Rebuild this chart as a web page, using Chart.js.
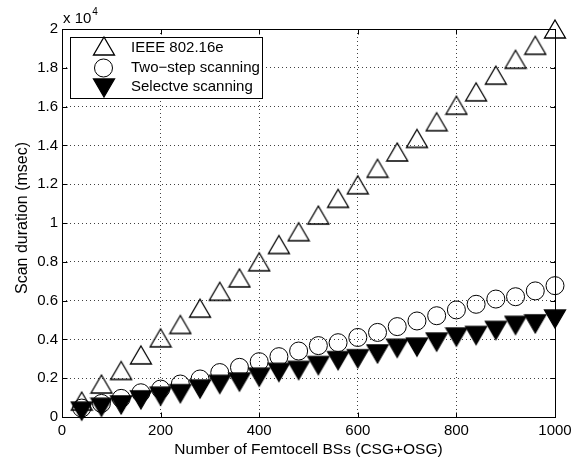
<!DOCTYPE html>
<html>
<head>
<meta charset="utf-8">
<script src="https://cdn.jsdelivr.net/npm/chart.js@4.4.1/dist/chart.umd.min.js"></script>
<style>
html, body { margin: 0; padding: 0; background: #fff; }
</style>
</head>
<body>
<canvas id="grafico" width="580" height="458"></canvas>
<script>
// numero de femtocells (eixo x)
const femtocelulas = [40, 80, 120, 160, 200, 240, 280, 320, 360, 400, 440, 480, 520,
  560, 600, 640, 680, 720, 760, 800, 840, 880, 920, 960, 1000];

// duracao do scan em msec
const ieee80216e = [820, 1700, 2400, 3200, 4080, 4770, 5610, 6480, 7170, 8000, 8890, 9550, 10410,
  11270, 11970, 12820, 13660, 14360, 15220, 16070, 16760, 17620, 18440, 19160, 20000];
const doisPassos = [460, 700, 960, 1250, 1440, 1700, 1960, 2290, 2560, 2850, 3110, 3400, 3680,
  3830, 4100, 4360, 4660, 4950, 5220, 5520, 5810, 6080, 6200, 6500, 6770];
const seletivo = [300, 500, 620, 880, 1070, 1200, 1440, 1680, 1800, 2050, 2300, 2400, 2650,
  2900, 3000, 3250, 3540, 3600, 3860, 4120, 4200, 4460, 4720, 4800, 5050];

const ticksY = [0, 2000, 4000, 6000, 8000, 10000, 12000, 14000, 16000, 18000, 20000];
const legendas = ['IEEE 802.16e', 'Two\u2212step scanning', 'Selectve scanning'];

const fonte = 'Liberation Sans, Arial, Helvetica, sans-serif';

/*  Marcadores estilo matlab  */
function marcaTriangulo(cheio, paraBaixo) {
  const c = document.createElement('canvas');
  c.width = 24; c.height = 22;
  const g = c.getContext('2d');
  const w = 21, h = 18, cx = 12, cy = 11;
  g.beginPath();
  if (!paraBaixo) {
    g.moveTo(cx, cy - h / 2); g.lineTo(cx + w / 2, cy + h / 2); g.lineTo(cx - w / 2, cy + h / 2);
  } else {
    g.moveTo(cx, cy + h / 2); g.lineTo(cx + w / 2, cy - h / 2); g.lineTo(cx - w / 2, cy - h / 2);
  }
  g.closePath();
  if (cheio) { g.fillStyle = '#000'; g.fill(); }
  g.lineWidth = 1.3; g.strokeStyle = '#000'; g.stroke();
  return c;
}
const trianguloCima = marcaTriangulo(false, false);
const trianguloBaixo = marcaTriangulo(true, true);

function pontos(ys) {
  return femtocelulas.map((x, i) => ({ x: x, y: ys[i] }));
}

/*  Caixa, ticks para dentro, legenda e o x10^4  */
const caixaMatlab = {
  id: 'caixaMatlab',
  beforeDatasetsDraw(chart) {
    const { ctx, chartArea: a } = chart;
    const sx = chart.scales.x, sy = chart.scales.y;
    const L = Math.round(a.left) + 0.5, R = Math.round(a.right) + 0.5;
    const T = Math.round(a.top) + 0.5, B = Math.round(a.bottom) + 0.5;
    ctx.save();
    ctx.strokeStyle = '#000';
    ctx.lineWidth = 1;
    ctx.strokeRect(L, T, R - L, B - T);
    ctx.beginPath();
    sx.ticks.forEach(t => {
      const px = Math.round(sx.getPixelForValue(t.value)) + 0.5;
      ctx.moveTo(px, B); ctx.lineTo(px, B - 5);
      ctx.moveTo(px, T); ctx.lineTo(px, T + 5);
    });
    sy.ticks.forEach(t => {
      const py = Math.round(sy.getPixelForValue(t.value)) + 0.5;
      ctx.moveTo(L, py); ctx.lineTo(L + 5, py);
      ctx.moveTo(R, py); ctx.lineTo(R - 5, py);
    });
    ctx.stroke();

    ctx.fillStyle = '#000';
    ctx.textBaseline = 'alphabetic';
    ctx.textAlign = 'left';
    ctx.font = '15px ' + fonte;
    ctx.fillText('x 10', 63, 23);
    const w = ctx.measureText('x 10').width;
    ctx.font = '10px ' + fonte;
    ctx.fillText('4', 63 + w + 1, 15);

    // titulo do eixo y
    ctx.save();
    ctx.translate(23, 218);
    ctx.rotate(-Math.PI / 2);
    ctx.font = '16px ' + fonte;
    ctx.textAlign = 'center';
    ctx.textBaseline = 'middle';
    ctx.fillText('Scan duration (msec)', 0, 0);
    ctx.restore();
    ctx.restore();
  },
  afterDatasetsDraw(chart) {
    const ctx = chart.ctx;
    ctx.save();
    ctx.fillStyle = '#fff';
    ctx.fillRect(70.5, 37.5, 192, 61);
    ctx.strokeStyle = '#000';
    ctx.lineWidth = 1;
    ctx.strokeRect(70.5, 37.5, 192, 61);

    ctx.drawImage(trianguloCima, 104 - 12, 46 - 11);
    ctx.beginPath();
    ctx.arc(103.5, 68, 9, 0, Math.PI * 2);
    ctx.stroke();
    ctx.drawImage(trianguloBaixo, 104 - 12, 88 - 11);

    ctx.fillStyle = '#000';
    ctx.font = '15px ' + fonte;
    ctx.textAlign = 'left';
    ctx.textBaseline = 'middle';
    ctx.fillText(legendas[0], 131, 48);
    ctx.fillText(legendas[1], 131, 68);
    ctx.fillText(legendas[2], 131, 87);
    ctx.restore();
  }
};

const corGrade = (ctx, min, max) =>
  (ctx.tick && (ctx.tick.value === min || ctx.tick.value === max)) ? 'rgba(0,0,0,0)' : 'rgba(0,0,0,0.75)';

new Chart(document.getElementById('grafico'), {
  type: 'scatter',
  data: {
    datasets: [
      {
        label: legendas[0],
        data: pontos(ieee80216e),
        pointStyle: trianguloCima,
        order: 2,
        clip: false
      },
      {
        label: legendas[1],
        data: pontos(doisPassos),
        pointStyle: 'circle',
        pointRadius: 9,
        pointBorderWidth: 1,
        pointBorderColor: '#000',
        pointBackgroundColor: 'rgba(0,0,0,0)',
        order: 1,
        clip: false
      },
      {
        label: legendas[2],
        data: pontos(seletivo),
        pointStyle: trianguloBaixo,
        order: 0,
        clip: false
      }
    ]
  },
  options: {
    responsive: false,
    animation: false,
    layout: { padding: { top: 29, right: 25, left: 0, bottom: 0 } },
    plugins: {
      legend: { display: false },
      tooltip: { enabled: false }
    },
    elements: { point: { hoverRadius: 9 } },
    scales: {
      x: {
        type: 'linear',
        min: 0,
        max: 1000,
        ticks: {
          stepSize: 200, color: '#000', font: { family: fonte, size: 15 }, padding: 5, maxRotation: 0,
          callback: v => String(v)
        },
        grid: { drawTicks: false, lineWidth: 1, color: ctx => corGrade(ctx, 0, 1000) },
        border: { display: false, dash: [1, 3] },
        title: {
          display: true,
          text: 'Number of Femtocell BSs (CSG+OSG)',
          color: '#000',
          font: { family: fonte, size: 15.5 },
          padding: { top: 0, bottom: -1 }
        },
        afterFit: s => { s.height = 41; }
      },
      y: {
        type: 'linear',
        min: 0,
        max: 20000,
        afterBuildTicks: s => { s.ticks = ticksY.map(v => ({ value: v })); },
        ticks: {
          color: '#000',
          font: { family: fonte, size: 15 },
          padding: 4,
          callback: v => String(Math.round(v / 1000) / 10)
        },
        grid: { drawTicks: false, lineWidth: 1, color: ctx => corGrade(ctx, 0, 20000) },
        border: { display: false, dash: [1, 3] },
        afterFit: s => { s.width = 62; }
      }
    }
  },
  plugins: [caixaMatlab]
});
</script>
</body>
</html>
